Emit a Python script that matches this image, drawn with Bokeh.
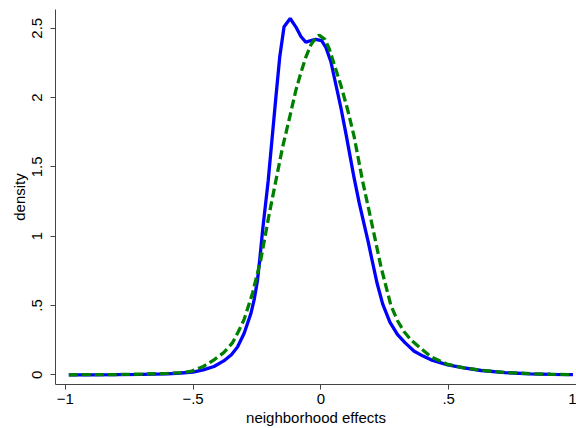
from bokeh.plotting import figure
from bokeh.models import Range1d, FixedTicker
from bokeh.embed import file_html
from bokeh.resources import INLINE

# Kernel density estimates
blue_x = [-0.986, -0.90, -0.80, -0.70, -0.60, -0.548, -0.50, -0.46, -0.418, -0.38,
          -0.35, -0.326, -0.30, -0.274, -0.26, -0.248, -0.238, -0.228, -0.217, -0.206,
          -0.19, -0.175, -0.161, -0.144, -0.120, -0.098, -0.078, -0.059,
          -0.039, -0.020, 0.003, 0.020, 0.039, 0.052, 0.078, 0.098, 0.115, 0.13,
          0.15, 0.17, 0.185, 0.20, 0.22, 0.242, 0.27, 0.30, 0.33, 0.365,
          0.40, 0.431, 0.496, 0.56, 0.627, 0.72, 0.82, 0.90, 0.986]
blue_y = [0.000, 0.000, 0.001, 0.003, 0.007, 0.013, 0.020, 0.035, 0.060, 0.100,
          0.145, 0.20, 0.30, 0.44, 0.55, 0.68, 0.85, 1.04, 1.22, 1.40,
          1.72, 2.02, 2.29, 2.51, 2.57, 2.51, 2.44, 2.40,
          2.41, 2.42, 2.41, 2.36, 2.26, 2.15, 1.93, 1.74, 1.57, 1.42,
          1.24, 1.08, 0.96, 0.83, 0.66, 0.51, 0.38, 0.29, 0.23, 0.17,
          0.135, 0.108, 0.072, 0.05, 0.031, 0.016, 0.007, 0.003, 0.001]

green_x = [-0.986, -0.90, -0.80, -0.70, -0.60, -0.548, -0.509, -0.46, -0.418, -0.38,
           -0.346, -0.323, -0.30, -0.267, -0.235, -0.202, -0.176, -0.15, -0.137,
           -0.118, -0.098, -0.078, -0.059, -0.039, -0.020, -0.007, 0.016, 0.033, 0.052,
           0.078, 0.105, 0.130, 0.163, 0.196, 0.235, 0.274, 0.30, 0.326, 0.353,
           0.385, 0.431, 0.496, 0.56, 0.627, 0.72, 0.82, 0.90, 0.986]
green_y = [0.000, 0.001, 0.002, 0.005, 0.010, 0.016, 0.024, 0.06, 0.108, 0.16,
           0.23, 0.31, 0.40, 0.59, 0.83, 1.16, 1.40, 1.64, 1.74,
           1.89, 2.05, 2.18, 2.29, 2.38, 2.43, 2.45, 2.42, 2.35, 2.24,
           2.09, 1.91, 1.72, 1.40, 1.12, 0.78, 0.50, 0.39, 0.31, 0.25,
           0.20, 0.13, 0.075, 0.05, 0.032, 0.017, 0.008, 0.004, 0.001]

x_ticks = [-1, -0.5, 0, 0.5, 1]
x_tick_labels = ["\u22121", "\u2212.5", "0", ".5", "1"]
y_ticks = [0, 0.5, 1, 1.5, 2, 2.5]
y_tick_labels = ["0", ".5", "1", "1.5", "2", "2.5"]

FONT = "Liberation Sans"
AXIS_COLOR = "#444444"

p = figure(width=576, height=428, output_backend="svg", toolbar_location=None,
           x_range=Range1d(-1.038, 1.0), y_range=Range1d(-0.07, 2.635),
           min_border_left=55, min_border_right=0, min_border_top=9,
           min_border_bottom=43)
p.outline_line_color = None
p.background_fill_color = "white"
p.border_fill_color = "white"
p.xgrid.visible = False
p.ygrid.visible = False

p.line(blue_x, blue_y, line_color="#0000ff", line_width=3.3)
p.line(green_x, green_y, line_color="#008000", line_width=3.3, line_dash="9 4")

for ax in (p.xaxis[0], p.yaxis[0]):
    ax.axis_line_color = AXIS_COLOR
    ax.major_tick_line_color = AXIS_COLOR
    ax.minor_tick_line_color = None
    ax.major_tick_out = 5
    ax.major_tick_in = 0
    ax.major_label_text_font = FONT
    ax.major_label_text_font_size = "15px"
    ax.major_label_text_color = "black"
    ax.axis_label_text_font = FONT
    ax.axis_label_text_font_size = "15px"
    ax.axis_label_text_font_style = "normal"
    ax.axis_label_text_color = "black"

p.xaxis.ticker = FixedTicker(ticks=x_ticks)
p.xaxis.major_label_overrides = dict(zip(x_ticks, x_tick_labels))
p.xaxis.axis_label = "neighborhood effects"
p.xaxis.major_label_standoff = 4
p.xaxis.axis_label_standoff = 2

p.yaxis.ticker = FixedTicker(ticks=y_ticks)
p.yaxis.major_label_overrides = dict(zip(y_ticks, y_tick_labels))
p.yaxis.major_label_orientation = "vertical"
p.yaxis.axis_label = "density"
p.yaxis.major_label_standoff = 8
p.yaxis.axis_label_standoff = 2

open("out.html", "w").write(file_html(p, INLINE))
